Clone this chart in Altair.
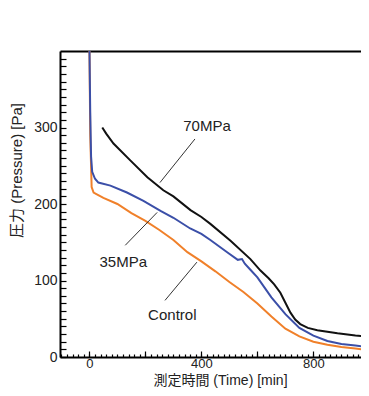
import altair as alt
import pandas as pd

# Control (orange)
ctrl_t = [0, 3, 8, 15, 30, 50, 100, 150, 200, 250, 300, 350, 400, 450, 500, 550, 600, 650, 700, 750, 800, 850, 900, 950, 995]
ctrl_p = [410, 290, 222, 215, 212, 208, 200, 188, 178, 166, 153, 137, 125, 112, 98, 85, 70, 53, 37, 27, 20, 16, 13, 11, 9]

# 35MPa (blue)
m35_t = [0, 3, 6, 10, 20, 32, 75, 134, 193, 254, 300, 360, 400, 432, 492, 530, 545, 555, 575, 600, 625, 650, 700, 750, 800, 850, 900, 950, 995]
m35_p = [410, 320, 262, 242, 233, 228, 224, 215, 204, 191, 182, 168, 161, 153, 137, 127, 128, 122, 114, 104, 91, 78, 56, 38, 28, 21, 17, 15, 13]

# 70MPa (black)
m70_t = [46, 60, 86, 146, 207, 264, 300, 361, 400, 432, 504, 575, 611, 640, 660, 682, 700, 718, 735, 753, 780, 814, 886, 950, 995]
m70_p = [300, 292, 279, 257, 235, 218, 210, 192, 183, 174, 152, 128, 113, 103, 95, 84, 71, 58, 49, 43, 38, 35, 31, 28, 27]

series_names = ["Control", "35MPa", "70MPa"]
series_colors = ["#F0802A", "#3B4FA8", "#111111"]

# annotations
label_text = ["70MPa", "35MPa", "Control"]
label_t = [420, 121, 296]
label_p = [302, 124, 55]
lead_t1 = [377, 128, 270]
lead_p1 = [285, 146, 74]
lead_t2 = [252, 242, 384]
lead_p2 = [228, 189, 124]

x_minor = list(range(-100, 1000, 20))
x_major = [0, 200, 400, 600, 800]
y_ticks = list(range(0, 400, 10))

rows = []
for name, ts, ps in [("Control", ctrl_t, ctrl_p), ("35MPa", m35_t, m35_p), ("70MPa", m70_t, m70_p)]:
    for i, (t, p) in enumerate(zip(ts, ps)):
        rows.append({"series": name, "t": t, "p": p, "order": i})
df = pd.DataFrame(rows)

lab_df = pd.DataFrame({"text": label_text, "t": label_t, "p": label_p})
lead_df = pd.DataFrame({"t1": lead_t1, "p1": lead_p1, "t2": lead_t2, "p2": lead_p2})

FONT = "'Liberation Sans', 'Noto Sans CJK JP', sans-serif"
TXT = "#222222"

xscale = alt.Scale(domain=[-105, 970], nice=False, zero=False)
yscale = alt.Scale(domain=[0, 400], nice=False)

y_axis = alt.Axis(
    values=y_ticks,
    tickSize={"expr": "-6"},
    tickColor="black",
    tickWidth=1.2,
    domainColor="black",
    domainWidth=2,
    labelExpr="datum.value % 100 === 0 ? datum.label : ''",
    labelPadding=9,
    labelFontSize=14,
    labelFont=FONT,
    labelColor=TXT,
    grid=False,
    title="圧力 (Pressure)  [Pa]",
    titleFont=FONT,
    titleFontSize=15,
    titleFontWeight="normal",
    titleColor=TXT,
    titleX=-44,
    titleY=119,
    titleAlign="center",
    titleBaseline="middle",
)

x_axis_minor = alt.Axis(
    orient="bottom",
    values=x_minor,
    tickSize={"expr": "-3"},
    tickColor="black",
    tickWidth=1.2,
    domainColor="black",
    domainWidth=2,
    labels=False,
    grid=False,
    title=None,
)

x_axis_major = alt.Axis(
    orient="bottom",
    values=x_major,
    tickSize={"expr": "-6"},
    tickColor="black",
    tickWidth=1.2,
    domain=False,
    labelExpr="datum.value % 400 === 0 ? datum.label : ''",
    labelPadding=6,
    labelFontSize=13,
    labelFont=FONT,
    labelColor=TXT,
    format="d",
    grid=False,
    title="測定時間 (Time)  [min]",
    titleFont=FONT,
    titleFontSize=14,
    titleFontWeight="normal",
    titleColor=TXT,
    titleX=160,
    titleY=16,
    titleAlign="center",
    titleBaseline="top",
)

x_axis_top = alt.Axis(
    orient="top",
    ticks=False,
    labels=False,
    domainColor="black",
    domainWidth=2,
    grid=False,
    title=None,
)

lines = alt.Chart(df).mark_line(clip=True, interpolate="linear").encode(
    x=alt.X("t:Q", scale=xscale, axis=x_axis_minor),
    y=alt.Y("p:Q", scale=yscale, axis=y_axis),
    color=alt.Color("series:N", scale=alt.Scale(domain=series_names, range=series_colors), legend=None),
    strokeWidth=alt.StrokeWidth("series:N", scale=alt.Scale(domain=series_names, range=[2, 2, 3]), legend=None),
    order="order:Q",
)

texts = alt.Chart(lab_df).mark_text(font=FONT, fontSize=15, color=TXT).encode(
    x=alt.X("t:Q", scale=xscale, axis=x_axis_major),
    y=alt.Y("p:Q", scale=yscale, axis=y_axis),
    text="text:N",
)

leads = alt.Chart(lead_df).mark_rule(color="#333333", strokeWidth=1).encode(
    x=alt.X("t1:Q", scale=xscale, axis=x_axis_top),
    y=alt.Y("p1:Q", scale=yscale, axis=y_axis),
    x2="t2:Q",
    y2="p2:Q",
)

chart = alt.layer(lines, texts, leads).resolve_axis(x="independent").properties(
    width=301,
    height=306,
    autosize=alt.AutoSizeParams(type="none"),
    padding={"left": 52, "top": 43, "right": 0, "bottom": 31},
).configure_view(stroke=None).configure(background="white")

chart.save("out.html", embed_options={"renderer": "svg", "actions": False})
